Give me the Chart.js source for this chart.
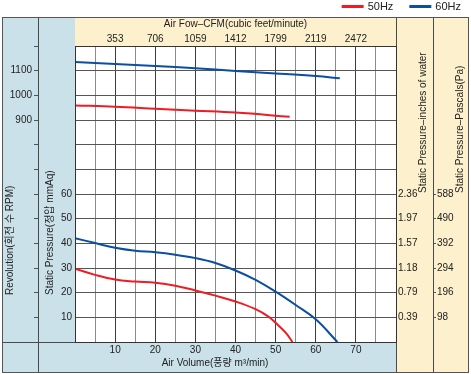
<!DOCTYPE html>
<html>
<head>
<meta charset="utf-8">
<script src="https://cdn.jsdelivr.net/npm/chart.js@4/dist/chart.umd.min.js"></script>
<style>
  html, body { margin: 0; padding: 0; background: #fff; }
  canvas { display: block; }
</style>
</head>
<body>
<canvas id="fanChart" width="471" height="374"></canvas>
<script>
// curves: air volume (m³/min) and the value read at that volume
const rpm50Volume = [0, 10, 20, 30, 40, 53.5];
const rpm50Values = [959, 954, 946, 938, 930, 913];
const rpm60Volume = [0, 10, 20, 30, 40, 50, 60, 66];
const rpm60Values = [1135, 1127, 1119, 1110, 1099, 1089, 1078, 1069];
const press50Volume = [0, 5, 10, 15, 20, 25, 30, 35, 40, 45, 48.3, 50, 52.5, 54.2];
const press50Values = [29.7, 27.2, 25.3, 24.5, 24, 22.8, 20.9, 18.8, 16.4, 13.3, 10.2, 7.8, 3.8, 0];
const press60Volume = [0, 5, 10, 15, 20, 25, 30, 35, 40, 45, 50, 55, 60, 65.4];
const press60Values = [42.1, 40.1, 38.2, 37, 36.4, 35.4, 34, 32, 29, 25.2, 20.4, 15, 9.2, 0];

// tick labels
const volumeTicks = [10, 20, 30, 40, 50, 60, 70];
const cfmLabels = ['353', '706', '1059', '1412', '1799', '2119', '2472'];
const rpmLabels = [900, 1000, 1100];
const mmAqTicks = [10, 20, 30, 40, 50, 60];
const inchLabels = ['0.39', '0.79', '1.18', '1.57', '1.97', '2.36'];
const pascalLabels = ['98', '196', '294', '392', '490', '588'];

const seriesNames = ['50Hz', '60Hz'];
const seriesColors = ['#ee1c24', '#0b4ea2'];

const BLUE_PANEL = '#cbe1ea';
const CREAM_PANEL = '#fdf0cd';
const LINE_DARK = '#4a4a4a';
const TEXT = '#222';
const FONT = "'Liberation Sans', Arial, 'Noto Sans CJK KR', sans-serif";

Chart.defaults.font.family = FONT;
Chart.defaults.font.size = 10;
Chart.defaults.color = TEXT;

function toPoints(xs, ys) {
  return xs.map((x, i) => ({ x: x, y: ys[i] }));
}

function curve(label, color, xs, ys, axis) {
  return {
    label: label,
    data: toPoints(xs, ys),
    xAxisID: 'x',
    yAxisID: axis,
    borderColor: color,
    backgroundColor: color,
    borderWidth: 2,
    pointRadius: 0,
    fill: false,
    tension: 0.4
  };
}

// pick a label out of an array by matching tick value
function labelFor(values, labels) {
  return v => {
    const i = values.indexOf(v);
    return i >= 0 ? labels[i] : '';
  };
}

function vText(ctx, text, x, y) {
  ctx.save();
  ctx.translate(x, y);
  ctx.rotate(-Math.PI / 2);
  ctx.textAlign = 'left';
  ctx.textBaseline = 'middle';
  ctx.fillText(text, 0, 0);
  ctx.restore();
}

const framePlugin = {
  id: 'frame',
  beforeDraw(chart) {
    const { ctx, chartArea: a, width, height } = chart;
    const L = 2, T = 17, R = width - 2, B = height - 2;
    ctx.save();
    ctx.fillStyle = '#fff';
    ctx.fillRect(0, 0, width, height);
    ctx.fillStyle = BLUE_PANEL;
    ctx.fillRect(L, T, a.left - L, B - T);
    ctx.fillRect(L, a.bottom, a.right - L, B - a.bottom);
    ctx.fillStyle = CREAM_PANEL;
    ctx.fillRect(a.left, T, R - a.left, a.top - T);
    ctx.fillRect(a.right, T, R - a.right, B - T);
    ctx.restore();
  },
  afterDraw(chart) {
    const { ctx, chartArea: a, width, height, scales } = chart;
    const L = 2, T = 17, R = width - 2, B = height - 2;
    ctx.save();
    ctx.strokeStyle = LINE_DARK;
    ctx.lineWidth = 1;
    const line = (x1, y1, x2, y2) => {
      ctx.beginPath();
      ctx.moveTo(x1, y1);
      ctx.lineTo(x2, y2);
      ctx.stroke();
    };
    // dividers
    const rpmX = Math.round(scales.yRpm.right) + 0.5;
    const paX = Math.round(scales.yPa.left) + 0.5;
    line(rpmX, T, rpmX, B);
    line(paX, T, paX, B);
    line(a.right + 0.5, T, a.right + 0.5, B);
    line(L, a.bottom + 0.5, a.right, a.bottom + 0.5);
    // plot frame
    ctx.strokeStyle = '#333';
    ctx.strokeRect(Math.round(a.left) + 0.5, Math.round(a.top) + 0.5, Math.round(a.right - a.left), Math.round(a.bottom - a.top));
    // outer border
    ctx.strokeStyle = '#555';
    ctx.strokeRect(L + 0.5, T + 0.5, R - L - 1, B - T);

    // axis titles
    ctx.fillStyle = TEXT;
    ctx.font = '10px ' + FONT;
    vText(ctx, 'Revolution(회전 수 RPM)', 10, 295);
    vText(ctx, 'Static Pressure(정압 mmAq)', 50, 295);
    vText(ctx, 'Static Pressure–inches of water', 423, 193);
    vText(ctx, 'Static Pressure–Pascals(Pa)', 460, 193);
    ctx.textAlign = 'center';
    ctx.textBaseline = 'middle';
    ctx.fillText('Air Volume(풍량 m³/min)', 215, 363);

    // legend
    ctx.font = '11px ' + FONT;
    ctx.textAlign = 'left';
    let x = 461;
    for (let i = seriesNames.length - 1; i >= 0; i--) {
      const w = ctx.measureText(seriesNames[i]).width;
      const tx = x - w;
      ctx.fillStyle = TEXT;
      ctx.fillText(seriesNames[i], tx, 7);
      ctx.strokeStyle = seriesColors[i];
      ctx.lineWidth = 3;
      line(tx - 26, 6.5, tx - 4, 6.5);
      x = tx - 26 - 16;
    }
    ctx.restore();
  }
};

new Chart(document.getElementById('fanChart'), {
  type: 'line',
  data: {
    datasets: [
      curve(seriesNames[0], seriesColors[0], rpm50Volume, rpm50Values, 'yRpm'),
      curve(seriesNames[1], seriesColors[1], rpm60Volume, rpm60Values, 'yRpm'),
      curve(seriesNames[0] + ' pressure', seriesColors[0], press50Volume, press50Values, 'yP'),
      curve(seriesNames[1] + ' pressure', seriesColors[1], press60Volume, press60Values, 'yP')
    ]
  },
  options: {
    responsive: false,
    animation: false,
    layout: { padding: { left: 2, right: 2, top: 17, bottom: 2 } },
    plugins: {
      legend: { display: false },
      tooltip: { enabled: false }
    },
    scales: {
      x: {
        type: 'linear', position: 'bottom', min: 0, max: 80,
        ticks: {
          stepSize: 5, autoSkip: false, maxRotation: 0, padding: 2,
          callback: v => volumeTicks.includes(v) ? String(v) : ''
        },
        grid: {
          drawTicks: false,
          color: c => (c.tick && c.tick.value % 10 === 0) ? '#3c3c3c' : '#8c8c8c'
        },
        border: { display: false },
        afterFit: s => { s.height = 30; }
      },
      xTop: {
        type: 'linear', position: 'top', min: 0, max: 80,
        ticks: { stepSize: 10, autoSkip: false, maxRotation: 0, padding: 1, callback: labelFor(volumeTicks, cfmLabels) },
        grid: { drawOnChartArea: false, drawTicks: false },
        border: { display: false },
        title: { display: true, text: 'Air Fow–CFM(cubic feet/minute)', padding: { top: 1, bottom: 0 } },
        afterFit: s => { s.height = 29; }
      },
      yP: {
        type: 'linear', position: 'left', weight: 0, min: 0, max: 120,
        ticks: { stepSize: 10, autoSkip: false, padding: 3, callback: v => mmAqTicks.includes(v) ? String(v) : '' },
        grid: { drawTicks: false, color: '#555' },
        border: { display: false },
        afterFit: s => { s.width = 37; }
      },
      yRpm: {
        type: 'linear', position: 'left', weight: 1, min: 0, max: 1200,
        ticks: { stepSize: 100, autoSkip: false, padding: 2, callback: v => rpmLabels.includes(v) ? String(v) : '' },
        grid: { drawOnChartArea: false, drawTicks: true, tickLength: 4, color: '#555' },
        border: { display: false },
        afterFit: s => { s.width = 36; }
      },
      yIn: {
        type: 'linear', position: 'right', weight: 0, min: 0, max: 120,
        ticks: { stepSize: 10, autoSkip: false, padding: 2, callback: labelFor(mmAqTicks, inchLabels) },
        grid: { drawOnChartArea: false, drawTicks: false },
        border: { display: false },
        afterFit: s => { s.width = 37; }
      },
      yPa: {
        type: 'linear', position: 'right', weight: 1, min: 0, max: 120,
        ticks: { stepSize: 10, autoSkip: false, padding: 1, callback: labelFor(mmAqTicks, pascalLabels) },
        grid: {
          drawOnChartArea: false, drawTicks: true, tickLength: 3,
          color: c => (c.tick && mmAqTicks.includes(c.tick.value)) ? '#555' : 'rgba(0,0,0,0)'
        },
        border: { display: false },
        afterFit: s => { s.width = 36; }
      }
    }
  },
  plugins: [framePlugin]
});
</script>
</body>
</html>
